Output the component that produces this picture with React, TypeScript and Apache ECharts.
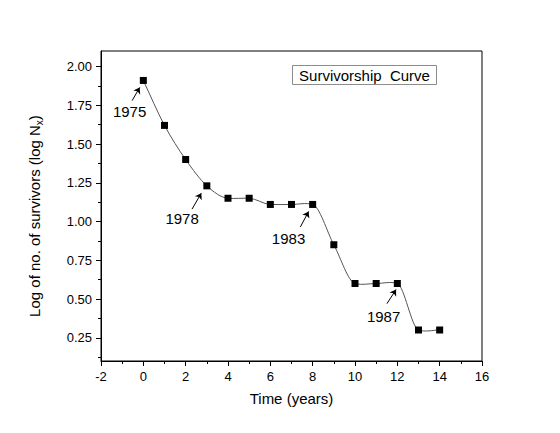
import React, { useEffect, useRef } from "react";
import * as echarts from "echarts";

// Survivorship data: time since 1975 (years) and log10 of survivors
const years = [0, 1, 2, 3, 4, 5, 6, 7, 8, 9, 10, 11, 12, 13, 14];
const logSurvivors = [1.91, 1.62, 1.4, 1.23, 1.15, 1.15, 1.11, 1.11, 1.11, 0.85, 0.6, 0.6, 0.6, 0.3, 0.3];

// Axis ranges and ticks
const xMin = -2;
const xMax = 16;
const xStep = 2;
const yMin = 0.1;
const yMax = 2.1;
const yMajorTicks = [0.25, 0.5, 0.75, 1.0, 1.25, 1.5, 1.75, 2.0];
const yMinorTicks = [0.125, 0.375, 0.625, 0.875, 1.125, 1.375, 1.625, 1.875];

// Calendar-year callouts (in data units)
const eventLabels = ["1975", "1978", "1983", "1987"];
const eventLabelX = [-0.65, 1.83, 6.86, 11.35];
const eventLabelY = [1.71, 1.02, 0.89, 0.385];
const arrowFromX = [-0.53, 2.3, 7.42, 11.51];
const arrowFromY = [1.78, 1.08, 0.965, 0.47];
const arrowToX = [-0.17, 2.74, 7.81, 11.94];
const arrowToY = [1.865, 1.183, 1.065, 0.561];

const FONT = "'Liberation Sans', Arial, Helvetica, sans-serif";

// Slope of the smooth connecting curve at point i (Hermite form, monotone-friendly):
// mean of neighbouring secants, damped next to flat stretches.
function slopeAt(i: number): number {
  const n = years.length;
  const sec = (a: number) => (logSurvivors[a + 1] - logSurvivors[a]) / (years[a + 1] - years[a]);
  if (i === 0) return sec(0);
  if (i === n - 1) return sec(n - 2);
  const a = sec(i - 1);
  const b = sec(i);
  if (a * b < 0) return 0;
  const mean = (a + b) / 2;
  if (a === 0 || b === 0) return mean * 0.3;
  return mean;
}

// One cubic Bezier segment per data point (point i to point i+1),
// positioned through the cartesian coordinate system.
function renderCurveSegment(params: any, api: any) {
  const i = params.dataIndex;
  if (i >= years.length - 1) return null;
  const x1 = years[i];
  const x2 = years[i + 1];
  const y1 = logSurvivors[i];
  const y2 = logSurvivors[i + 1];
  const h = (x2 - x1) / 3;
  const p1 = api.coord([x1, y1]);
  const p2 = api.coord([x2, y2]);
  const c1 = api.coord([x1 + h, y1 + slopeAt(i) * h]);
  const c2 = api.coord([x2 - h, y2 - slopeAt(i + 1) * h]);
  return {
    type: "bezierCurve",
    shape: {
      x1: p1[0],
      y1: p1[1],
      x2: p2[0],
      y2: p2[1],
      cpx1: c1[0],
      cpy1: c1[1],
      cpx2: c2[0],
      cpy2: c2[1],
    },
    style: { stroke: "#555", fill: "none", lineWidth: 1 },
    silent: true,
  };
}

export default function App() {
  const ref = useRef<HTMLDivElement>(null);

  useEffect(() => {
    if (!ref.current) return;
    const chart = echarts.init(ref.current, null, { renderer: "svg" });
    const points = years.map((x, i) => [x, logSurvivors[i]]);

    const option = {
      animation: false,
      backgroundColor: "#fff",
      textStyle: { fontFamily: FONT },
      grid: {
        left: 101,
        right: 78,
        top: 51,
        bottom: 72,
        show: true,
        borderColor: "#000",
        borderWidth: 1,
        backgroundColor: "transparent",
      },
      xAxis: {
        type: "value",
        min: xMin,
        max: xMax,
        interval: xStep,
        axisLine: { show: true, onZero: false, lineStyle: { color: "#000", width: 1 } },
        axisTick: { show: true, inside: false, length: 5, lineStyle: { color: "#000" } },
        minorTick: { show: true, splitNumber: 2, length: 3, lineStyle: { color: "#000" } },
        axisLabel: { color: "#000", fontSize: 13, fontFamily: FONT, margin: 9 },
        splitLine: { show: false },
        name: "Time (years)",
        nameLocation: "middle",
        nameGap: 30,
        nameTextStyle: { color: "#000", fontSize: 15, fontFamily: FONT },
      },
      yAxis: [
        {
          type: "value",
          min: yMin,
          max: yMax,
          position: "left",
          axisLine: { show: true, onZero: false, lineStyle: { color: "#000", width: 1 } },
          axisTick: {
            show: true,
            inside: false,
            length: 5,
            customValues: yMajorTicks,
            lineStyle: { color: "#000" },
          },
          axisLabel: {
            customValues: yMajorTicks,
            formatter: (v: number) => v.toFixed(2),
            color: "#000",
            fontSize: 13,
            fontFamily: FONT,
            margin: 9,
          },
          splitLine: { show: false },
          name: "Log of no. of survivors (log N{sub|x})",
          nameLocation: "middle",
          nameRotate: 90,
          nameGap: 57,
          nameTextStyle: {
            color: "#000",
            fontSize: 15,
            fontFamily: FONT,
            padding: [0, 20, 0, 0],
            rich: {
              sub: { fontSize: 10, fontFamily: FONT, color: "#000", padding: [9, 0, 0, 0] },
            },
          },
        },
        {
          type: "value",
          min: yMin,
          max: yMax,
          position: "left",
          offset: 0,
          axisLine: { show: false, onZero: false },
          axisTick: {
            show: true,
            inside: false,
            length: 3,
            customValues: yMinorTicks,
            lineStyle: { color: "#000" },
          },
          axisLabel: { show: false },
          splitLine: { show: false },
        },
      ],
      graphic: [
        {
          type: "rect",
          shape: { x: 292.5, y: 65.5, width: 144, height: 19 },
          style: { fill: "#fff", stroke: "#8c8c8c", lineWidth: 1 },
          z: 100,
        },
        {
          type: "text",
          x: 364.5,
          y: 75,
          style: {
            text: "Survivorship  Curve",
            fill: "#000",
            font: `15px ${FONT}`,
            align: "center",
            verticalAlign: "middle",
          },
          z: 101,
        },
      ],
      series: [
        {
          name: "Survivorship curve",
          type: "custom",
          data: points,
          encode: { x: 0, y: 1 },
          renderItem: renderCurveSegment,
          silent: true,
          z: 2,
        },
        {
          name: "Survivorship",
          type: "scatter",
          data: points,
          symbol: "rect",
          symbolSize: 7,
          itemStyle: { color: "#000", opacity: 1 },
          emphasis: { disabled: true },
          z: 3,
        },
        {
          name: "Years",
          type: "scatter",
          data: eventLabels.map((t, i) => [eventLabelX[i], eventLabelY[i], t]),
          symbolSize: 0,
          itemStyle: { color: "#000", opacity: 1 },
          label: {
            show: true,
            position: "inside",
            formatter: (p: any) => p.data[2],
            color: "#000",
            opacity: 1,
            textBorderWidth: 0,
            fontSize: 15,
            fontFamily: FONT,
          },
          emphasis: { disabled: true },
          markLine: {
            silent: true,
            symbol: ["none", "arrow"],
            symbolSize: 6,
            label: { show: false },
            emphasis: { disabled: true },
            lineStyle: { color: "#000", width: 1, type: "solid", opacity: 1 },
            data: arrowFromX.map((fx, i) => [
              { coord: [fx, arrowFromY[i]] },
              { coord: [arrowToX[i], arrowToY[i]] },
            ]),
          },
          z: 4,
        },
      ],
    };

    chart.setOption(option as any);
    return () => chart.dispose();
  }, []);

  return (
    <div
      ref={ref}
      style={{ position: "absolute", left: 0, top: 0, width: 560, height: 433, background: "#fff" }}
    />
  );
}
